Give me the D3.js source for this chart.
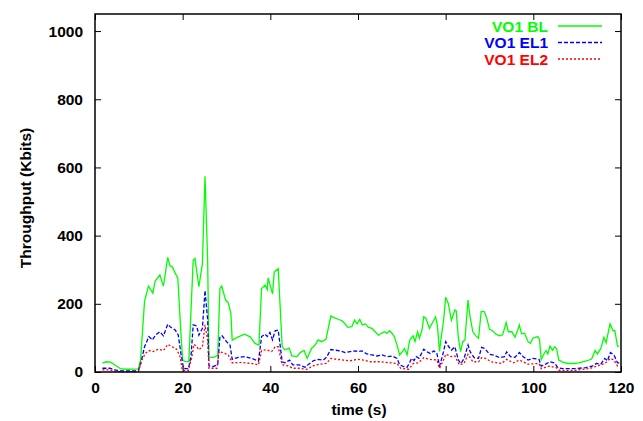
<!DOCTYPE html>
<meta charset="utf-8">
<title>Throughput</title>
<script src="https://d3js.org/d3.v7.min.js"></script>
<style>
  body { margin: 0; background: #fff; }
  text { font-family: "Liberation Sans", Arial, sans-serif; font-weight: bold; }
</style>
<body>
<script>

// series data (time in s, throughput in Kbits)
const blTime = [1.7, 2.6, 3.6, 4.6, 5.9, 7.5, 9.9, 10.4, 11.3, 12.2, 13.2, 13.7, 14.8, 15.6, 16.6, 17.1, 17.6, 18.3, 18.9, 19.6, 20.0, 20.5, 21.4, 22.4, 22.8, 23.7, 24.5, 25.1, 25.7, 26.0, 26.9, 28.0, 28.5, 28.9, 29.8, 30.4, 31.0, 31.3, 32.7, 34.1, 35.4, 36.5, 37.4, 38.0, 38.8, 39.3, 39.5, 40.5, 40.9, 41.8, 42.7, 43.3, 44.3, 44.9, 46.1, 46.8, 47.7, 48.4, 49.4, 50.2, 50.9, 51.7, 52.7, 53.8, 54.4, 55.6, 56.3, 56.9, 57.7, 58.6, 59.2, 59.8, 60.4, 61.0, 61.7, 62.4, 63.2, 63.9, 64.7, 65.5, 66.1, 66.6, 67.2, 67.8, 68.3, 68.9, 69.5, 70.1, 70.6, 71.2, 71.8, 72.1, 72.6, 73.0, 73.6, 74.0, 74.6, 75.0, 75.5, 76.3, 77.0, 77.7, 78.1, 78.6, 78.9, 79.5, 80.0, 80.6, 81.3, 82.1, 82.4, 82.9, 83.4, 83.9, 84.4, 85.1, 85.5, 86.2, 86.9, 87.5, 88.1, 88.8, 89.4, 90.0, 90.7, 91.5, 92.3, 93.0, 93.8, 94.3, 95.1, 95.8, 96.4, 96.8, 97.3, 98.0, 98.8, 99.3, 99.9, 101.0, 101.4, 101.8, 102.3, 102.9, 103.3, 103.8, 104.4, 104.9, 105.3, 105.8, 106.6, 107.8, 109.3, 110.4, 111.2, 112.3, 113.3, 114.1, 114.6, 115.4, 116.1, 116.6, 117.5, 118.2, 118.6, 119.2, 119.6];
const blValues = [27, 30, 29, 20, 9, 8, 9, 36, 207, 252, 231, 266, 285, 252, 336, 311, 309, 290, 275, 113, 36, 31, 30, 328, 333, 250, 318, 574, 327, 44, 42, 49, 245, 252, 211, 203, 172, 93, 103, 111, 103, 84, 79, 245, 255, 242, 276, 229, 293, 303, 74, 65, 70, 47, 45, 57, 63, 40, 69, 79, 94, 89, 96, 164, 160, 154, 151, 143, 131, 133, 152, 141, 154, 138, 141, 131, 128, 118, 108, 115, 118, 113, 121, 113, 103, 79, 50, 60, 69, 50, 94, 99, 106, 89, 118, 99, 123, 162, 157, 128, 145, 162, 138, 60, 94, 148, 219, 201, 152, 182, 180, 99, 60, 89, 94, 211, 167, 118, 106, 99, 177, 177, 157, 125, 121, 111, 106, 109, 145, 118, 118, 102, 121, 138, 112, 114, 89, 84, 99, 104, 96, 37, 50, 63, 53, 76, 64, 74, 69, 35, 30, 25, 25, 27, 30, 33, 38, 63, 53, 69, 102, 86, 141, 121, 121, 76, 76];

const el1Time = [1.7, 3.4, 4.6, 5.7, 9.9, 10.7, 11.3, 12.3, 13.1, 13.8, 14.8, 15.6, 16.6, 17.3, 18.3, 19.0, 19.6, 20.2, 21.3, 21.9, 22.4, 23.2, 23.7, 24.5, 25.1, 25.7, 26.0, 26.9, 28.0, 28.5, 29.0, 30.0, 30.8, 31.3, 32.7, 34.2, 35.7, 37.3, 38.0, 38.8, 39.3, 39.9, 40.5, 41.1, 41.8, 42.7, 43.3, 44.4, 45.1, 46.6, 47.9, 48.6, 49.8, 50.9, 52.1, 52.8, 53.8, 54.8, 55.9, 57.1, 58.2, 59.4, 60.1, 60.9, 62.0, 63.2, 64.3, 65.5, 66.6, 67.8, 68.9, 69.5, 70.4, 71.2, 71.8, 72.2, 72.8, 73.3, 73.9, 75.0, 75.8, 76.5, 77.3, 78.0, 78.6, 78.9, 79.5, 80.0, 80.7, 81.3, 82.1, 82.9, 83.5, 84.2, 85.1, 85.6, 86.5, 87.5, 88.2, 88.9, 90.0, 91.1, 92.3, 93.4, 93.9, 94.8, 95.8, 96.8, 97.7, 98.8, 99.9, 101.3, 101.8, 102.8, 103.8, 104.8, 105.6, 106.6, 109.7, 112.0, 113.4, 114.4, 115.4, 116.3, 116.9, 117.6, 118.4, 119.2, 119.6];
const el1Values = [11, 11, 6, 3, 3, 40, 74, 104, 94, 108, 118, 106, 140, 131, 123, 108, 54, 11, 9, 45, 138, 135, 108, 128, 239, 153, 18, 16, 21, 104, 106, 89, 79, 37, 43, 45, 40, 32, 104, 111, 104, 116, 94, 121, 123, 30, 27, 35, 21, 21, 14, 21, 33, 37, 35, 43, 66, 64, 62, 57, 60, 62, 60, 62, 53, 50, 47, 50, 45, 47, 40, 21, 16, 14, 28, 40, 34, 45, 40, 67, 59, 54, 62, 54, 18, 30, 59, 89, 74, 64, 74, 35, 25, 40, 79, 59, 42, 40, 72, 69, 52, 49, 42, 45, 59, 45, 43, 57, 45, 35, 40, 37, 17, 23, 30, 27, 13, 10, 10, 13, 17, 25, 23, 40, 33, 57, 50, 27, 27];

const el2Time = [1.7, 3.4, 5.3, 9.9, 10.7, 11.5, 12.4, 13.3, 14.5, 15.6, 16.6, 17.6, 18.6, 19.4, 19.9, 21.3, 22.1, 22.6, 23.2, 23.7, 24.5, 25.1, 25.7, 26.0, 27.8, 28.3, 29.2, 30.4, 31.3, 33.5, 35.7, 37.3, 38.0, 39.1, 40.3, 41.1, 41.8, 42.7, 44.0, 45.1, 46.6, 48.3, 49.8, 51.3, 52.8, 53.8, 55.2, 56.7, 58.2, 59.8, 61.2, 62.8, 65.1, 67.4, 68.9, 69.7, 71.2, 71.6, 72.6, 73.8, 75.0, 76.5, 78.0, 78.6, 79.5, 80.0, 81.3, 82.1, 83.1, 84.2, 85.1, 86.2, 87.5, 88.2, 89.1, 90.4, 92.7, 93.9, 95.5, 96.8, 98.8, 101.3, 101.8, 103.6, 105.2, 105.9, 109.7, 112.8, 114.4, 116.3, 117.6, 118.4, 119.2, 119.6];
const el2Values = [6, 6, 1, 1, 35, 55, 63, 60, 67, 63, 81, 74, 67, 45, 6, 4, 45, 81, 74, 65, 74, 138, 94, 11, 11, 60, 57, 50, 27, 28, 25, 21, 63, 65, 60, 74, 74, 21, 18, 11, 11, 8, 18, 23, 25, 40, 37, 35, 33, 37, 35, 30, 30, 27, 25, 11, 8, 8, 25, 27, 42, 37, 35, 11, 35, 52, 45, 47, 21, 25, 52, 30, 30, 42, 40, 30, 25, 37, 27, 35, 23, 25, 10, 17, 13, 5, 5, 10, 17, 25, 40, 35, 17, 17];

const xTicks = [0, 20, 40, 60, 80, 100, 120];
const yTicks = [0, 200, 400, 600, 800, 1000];
const seriesNames = ["VO1 BL", "VO1 EL1", "VO1 EL2"];
const seriesColors = ["#00ff00", "#0000ff", "#ff0000"];
const seriesDash = [null, "4,2", "2,2"];

const width = 643, height = 421;
const margin = { top: 14, right: 22, bottom: 49, left: 95 };
const w = width - margin.left - margin.right;
const h = height - margin.top - margin.bottom;
const fontSize = 15.5;

const svg = d3.select("body").append("svg")
  .attr("width", width)
  .attr("height", height);

const g = svg.append("g")
  .attr("transform", `translate(${margin.left},${margin.top})`);

const x = d3.scaleLinear().domain([0, 120]).range([0, w]);
const y = d3.scaleLinear().domain([0, 1050]).range([h, 0]);

// data lines
const series = [
  { t: blTime, v: blValues },
  { t: el1Time, v: el1Values },
  { t: el2Time, v: el2Values }
];
const line = d3.line().x(d => x(d[0])).y(d => y(d[1]));

series.forEach((s, i) => {
  g.append("path")
    .datum(s.t.map((t, j) => [t, s.v[j]]))
    .attr("fill", "none")
    .attr("stroke", seriesColors[i])
    .attr("stroke-width", 1.3)
    .attr("stroke-dasharray", seriesDash[i])
    .attr("d", line);
});

// axes: ticks inward, mirrored on top and right
const tickLen = 6;
const fmt = d3.format("d");
const axBottom = g.append("g").attr("transform", `translate(0,${h})`)
  .call(d3.axisBottom(x).tickValues(xTicks).tickFormat(fmt).tickSizeInner(-tickLen).tickSizeOuter(0).tickPadding(12));
const axLeft = g.append("g")
  .call(d3.axisLeft(y).tickValues(yTicks).tickFormat(fmt).tickSizeInner(-tickLen).tickSizeOuter(0).tickPadding(12));
const axTop = g.append("g")
  .call(d3.axisTop(x).tickValues(xTicks).tickSizeInner(-tickLen).tickSizeOuter(0).tickFormat(""));
const axRight = g.append("g").attr("transform", `translate(${w},0)`)
  .call(d3.axisRight(y).tickValues(yTicks).tickSizeInner(-tickLen).tickSizeOuter(0).tickFormat(""));

[axBottom, axLeft, axTop, axRight].forEach(a => {
  a.select(".domain").remove();
  a.selectAll("line").attr("stroke", "#000").attr("stroke-width", 1);
  a.selectAll("text").attr("font-size", fontSize).attr("fill", "#000")
    .style("font-family", "Liberation Sans, Arial, sans-serif").style("font-weight", "bold");
});
axBottom.selectAll("text").attr("dy", "0.6em");

// frame
g.append("rect")
  .attr("width", w).attr("height", h)
  .attr("fill", "none").attr("stroke", "#000").attr("stroke-width", 1.5);

// axis titles
svg.append("text")
  .attr("x", margin.left + w / 2 + 1).attr("y", 415)
  .attr("text-anchor", "middle").attr("font-size", fontSize)
  .text("time (s)");

svg.append("text")
  .attr("transform", `translate(31,198) rotate(-90)`)
  .attr("text-anchor", "middle").attr("font-size", fontSize)
  .text("Throughput (Kbits)");

// legend
const legend = svg.append("g");
seriesNames.forEach((name, i) => {
  const ly = 26 + i * 16.5;
  legend.append("text")
    .attr("x", 548).attr("y", ly).attr("dy", "0.36em")
    .attr("text-anchor", "end").attr("font-size", fontSize)
    .attr("fill", seriesColors[i])
    .text(name);
  legend.append("line")
    .attr("x1", 558).attr("x2", 602).attr("y1", ly).attr("y2", ly)
    .attr("stroke", seriesColors[i]).attr("stroke-width", 1.3)
    .attr("stroke-dasharray", seriesDash[i]);
});

</script>
</body>
